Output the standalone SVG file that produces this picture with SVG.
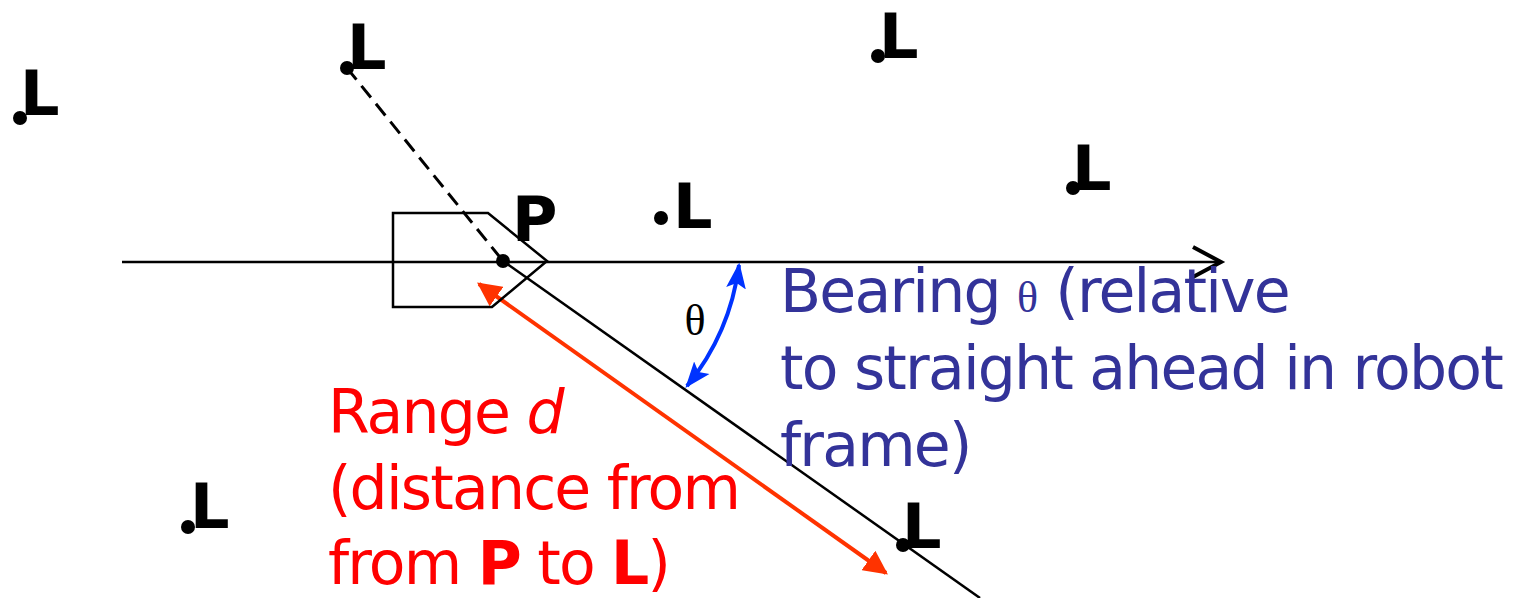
<svg xmlns="http://www.w3.org/2000/svg" width="1526" height="598" viewBox="0 0 1526 598">
<style>
.lm{font-family:"DejaVu Sans",Verdana,sans-serif;font-weight:bold;font-size:62px;fill:#000}
.dot{fill:#000}
.ln{stroke:#000;fill:none;stroke-width:2.5}
.blue{font-family:"DejaVu Sans",Verdana,sans-serif;font-size:60px;fill:#333399;letter-spacing:-1.8px}
.red{font-family:"DejaVu Sans",Verdana,sans-serif;font-size:60px;fill:#ff0000;letter-spacing:-1.8px}
.th{font-family:"Liberation Serif","Times New Roman",serif;letter-spacing:0}
</style>
<defs>
<marker id="ra" viewBox="0 0 10 10" refX="9" refY="5" markerWidth="6" markerHeight="6" orient="auto-start-reverse" markerUnits="strokeWidth"><path d="M0,0 L10,5 L0,10 z" fill="#ff3300"/></marker>
<marker id="ba" viewBox="0 0 10 10" refX="9" refY="5" markerWidth="6.5" markerHeight="5.5" orient="auto-start-reverse" markerUnits="strokeWidth" preserveAspectRatio="none"><path d="M0,0.5 L10,5 L0,9.5 L2,5 z" fill="#0033ff"/></marker>
</defs>
<rect width="1526" height="598" fill="#fff"/>
<g id="connectors">
<line class="ln" x1="122" y1="262" x2="1221" y2="262"/>
<polyline points="1193,247 1221,262 1193,277" fill="none" stroke="#000" stroke-width="4"/>
<line x1="347" y1="68" x2="503" y2="261" stroke="#000" stroke-width="3" stroke-dasharray="15,8"/>
<line class="ln" x1="503" y1="261" x2="980" y2="598"/>
<line x1="479" y1="284" x2="886" y2="573" stroke="#ff3300" stroke-width="4" marker-start="url(#ra)" marker-end="url(#ra)"/>
<path d="M739,265 A240,240 0 0 1 687,386" fill="none" stroke="#0033ff" stroke-width="4" marker-start="url(#ba)" marker-end="url(#ba)"/>
</g>
<g id="robot">
<polygon class="ln" points="393,213 488,213 547,261 492,307 393,307"/>
</g>
<g id="P">
<circle class="dot" cx="503" cy="261" r="7"/>
<text class="lm" x="512" y="241">P</text>
</g>
<g id="L1"><circle class="dot" cx="347" cy="68" r="7"/><text class="lm" x="347" y="69">L</text></g>
<g id="L2"><circle class="dot" cx="20" cy="118" r="7"/><text class="lm" x="20" y="115">L</text></g>
<g id="L3"><circle class="dot" cx="878" cy="56" r="7"/><text class="lm" x="879" y="58">L</text></g>
<g id="L4"><circle class="dot" cx="1073" cy="188" r="7"/><text class="lm" x="1072" y="190">L</text></g>
<g id="L5"><circle class="dot" cx="661" cy="218" r="7"/><text class="lm" x="673" y="228">L</text></g>
<g id="L6"><circle class="dot" cx="188" cy="527" r="7"/><text class="lm" x="190" y="528">L</text></g>
<g id="L7"><circle class="dot" cx="903" cy="545" r="7"/><text class="lm" x="902" y="548">L</text></g>
<g id="theta">
<text x="695" y="335" text-anchor="middle" font-family="Liberation Serif,'Times New Roman',serif" font-size="44" fill="#000">θ</text>
</g>
<g id="bearing-label">
<text class="blue" x="780" y="312">Bearing <tspan class="th" font-size="44">θ</tspan> (relative</text>
<text class="blue" x="780" y="389">to straight ahead in robot</text>
<text class="blue" x="780" y="466">frame)</text>
</g>
<g id="range-label">
<text class="red" x="328" y="433">Range <tspan font-style="italic">d</tspan></text>
<text class="red" x="328" y="509">(distance from</text>
<text class="red" x="328" y="584">from <tspan font-weight="bold">P</tspan> to <tspan font-weight="bold">L</tspan>)</text>
</g>
</svg>
